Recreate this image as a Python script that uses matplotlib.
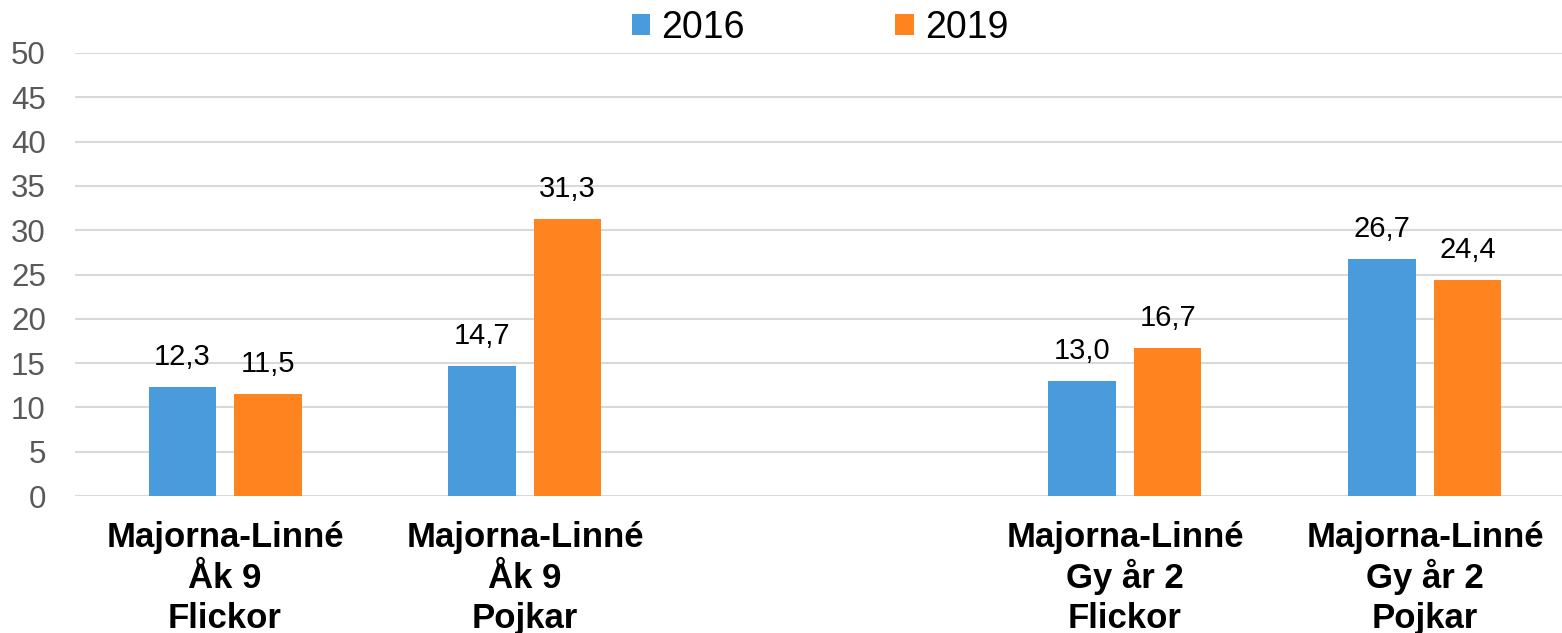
import matplotlib
matplotlib.use("Agg")
import matplotlib.pyplot as plt
import numpy as np

categories = ["Majorna-Linné\nÅk 9\nFlickor", "Majorna-Linné\nÅk 9\nPojkar", "",
              "Majorna-Linné\nGy år 2\nFlickor", "Majorna-Linné\nGy år 2\nPojkar"]
series_names = ["2016", "2019"]
values_2016 = [12.3, 14.7, None, 13.0, 26.7]
values_2019 = [11.5, 31.3, None, 16.7, 24.4]
yticks = [0, 5, 10, 15, 20, 25, 30, 35, 40, 45, 50]

colors = ["#4A9BDC", "#FF831E"]

plt.rcParams['font.family'] = ['Liberation Sans', 'DejaVu Sans']

fig = plt.figure(figsize=(15.62, 6.33), dpi=100)
ax = fig.add_axes([75/1562, 1 - 496/633, 1500/1562, (496 - 53)/633])

x = np.arange(len(categories))
w = 0.225
off = 0.1425
for vals, name, c, sgn in [(values_2016, series_names[0], colors[0], -1),
                           (values_2019, series_names[1], colors[1], 1)]:
    xs = [xi + sgn * off for xi, v in zip(x, vals) if v is not None]
    vs = [v for v in vals if v is not None]
    bars = ax.bar(xs, vs, width=w, color=c, label=name, zorder=3)
    for b, v in zip(bars, vs):
        ax.text(b.get_x() + b.get_width() / 2, v + 1.8, f"{v:.1f}".replace(".", ","),
                ha="center", va="bottom", fontsize=21, color="#000000")

ax.set_xlim(-0.5, 4.5)
ax.set_ylim(0, 50)
ax.set_yticks(yticks)
ax.set_yticklabels([str(t) for t in yticks], fontsize=22.5, color="#595959")
ax.set_xticks(x)
ax.set_xticklabels([""] * len(categories))
# category labels drawn line by line on fixed baselines
line_offsets = [36.7, 66.2, 95.0]
for xi, cat in zip(x, categories):
    if not cat:
        continue
    for line, off_pt in zip(cat.split("\n"), line_offsets):
        ax.annotate(line, xy=(xi, 0), xycoords=("data", "axes fraction"),
                    xytext=(0, -off_pt), textcoords="offset points",
                    ha="center", va="baseline", fontsize=25, fontweight="bold",
                    color="#000000", annotation_clip=False)
ax.tick_params(axis="both", length=0)
ax.tick_params(axis="y", pad=21)
ax.grid(axis="y", color="#D9D9D9", linewidth=1.5, zorder=0)
for s in ax.spines.values():
    s.set_visible(False)

leg = fig.legend(loc="upper center", bbox_to_anchor=(0.525, 1.038), ncol=2, frameon=False,
                 fontsize=27, handlelength=0.5, handleheight=0.5, columnspacing=4.0,
                 handletextpad=0.3)

fig.savefig("out.png", dpi=100)
